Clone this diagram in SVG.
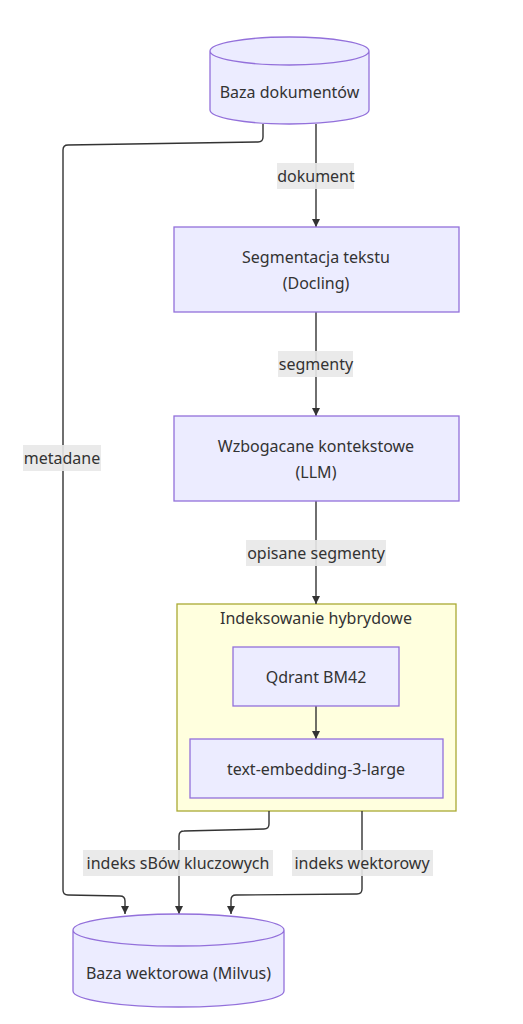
<svg xmlns="http://www.w3.org/2000/svg" width="523" height="1024" viewBox="0 0 523 1024">
<style>
.node{fill:#ECECFF;stroke:#9370DB;stroke-width:1.3}
.cluster{fill:#ffffde;stroke:#aaaa33;stroke-width:1.3}
.edge{fill:none;stroke:#333333;stroke-width:1.4}
.lbl{fill:#e8e8e8;opacity:0.9}
text{font-family:"Trebuchet MS","Noto Sans","Open Sans",sans-serif;font-size:16px;fill:#333333;text-anchor:middle;dominant-baseline:central}
</style>
<defs>
<marker id="arrow" viewBox="0 0 10 10" refX="10" refY="5" markerWidth="8" markerHeight="8" markerUnits="userSpaceOnUse" orient="auto">
<path d="M0,0 L10,5 L0,10 z" fill="#333333"/>
</marker>
</defs>
<rect width="523" height="1024" fill="#ffffff"/>
<g id="cluster-hybrid">
<rect class="cluster" x="177" y="604" width="279" height="207"/>
<text x="316" y="618">Indeksowanie hybrydowe</text>
</g>
<g id="connectors">
<path class="edge" d="M316,124 L316,227" marker-end="url(#arrow)"/>
<path class="edge" d="M316,312 L316,416" marker-end="url(#arrow)"/>
<path class="edge" d="M316,501 L316,604" marker-end="url(#arrow)"/>
<path class="edge" d="M316,706 L316,739" marker-end="url(#arrow)"/>
<path class="edge" d="M263,124 L263,137 Q263,142 258,142 L68,145 Q63,145 63,150 L63,890 Q63,895 68,895 L120,896 Q125,896 125,901 L125,914" marker-end="url(#arrow)"/>
<path class="edge" d="M269,811 L269,824 Q269,829 264,829 L184,831 Q179,831 179,836 L179,914" marker-end="url(#arrow)"/>
<path class="edge" d="M362,811 L362,889 Q362,894 357,894 L236,895 Q231,895 231,900 L231,914" marker-end="url(#arrow)"/>
<g id="edge-labels">
<rect class="lbl" x="277" y="163" width="77" height="26"/>
<text x="316" y="176">dokument</text>
<rect class="lbl" x="278" y="351" width="75" height="26"/>
<text x="316" y="364">segmenty</text>
<rect class="lbl" x="246" y="540" width="140" height="26"/>
<text x="316" y="553">opisane segmenty</text>
<rect class="lbl" x="23" y="445" width="78" height="26"/>
<text x="62" y="458">metadane</text>
<rect class="lbl" x="83" y="850" width="190" height="26"/>
<text x="178" y="863">indeks sBów kluczowych</text>
<rect class="lbl" x="292" y="850" width="141" height="26"/>
<text x="362" y="863">indeks wektorowy</text>
</g>
</g>
<g id="node-docs">
<path class="node" d="M210,51 a79.5,14 0 0 0 159,0 a79.5,14 0 0 0 -159,0 l0,59 a79.5,14 0 0 0 159,0 l0,-59"/>
<text x="289.5" y="92">Baza dokumentów</text>
</g>
<g id="node-seg">
<rect class="node" x="174" y="227" width="285" height="85"/>
<text x="316" y="257">Segmentacja tekstu</text>
<text x="316" y="283">(Docling)</text>
</g>
<g id="node-llm">
<rect class="node" x="174" y="416" width="285" height="85"/>
<text x="316" y="446">Wzbogacane kontekstowe</text>
<text x="316" y="472">(LLM)</text>
</g>
<g id="node-bm42">
<rect class="node" x="233" y="647" width="166" height="59"/>
<text x="316" y="677">Qdrant BM42</text>
</g>
<g id="node-emb">
<rect class="node" x="190" y="739" width="253" height="59"/>
<text x="316" y="769">text-embedding-3-large</text>
</g>
<g id="node-milvus">
<path class="node" d="M73,930 a105.5,16 0 0 0 211,0 a105.5,16 0 0 0 -211,0 l0,61 a105.5,16 0 0 0 211,0 l0,-61"/>
<text x="178.5" y="973">Baza wektorowa (Milvus)</text>
</g>
</svg>
